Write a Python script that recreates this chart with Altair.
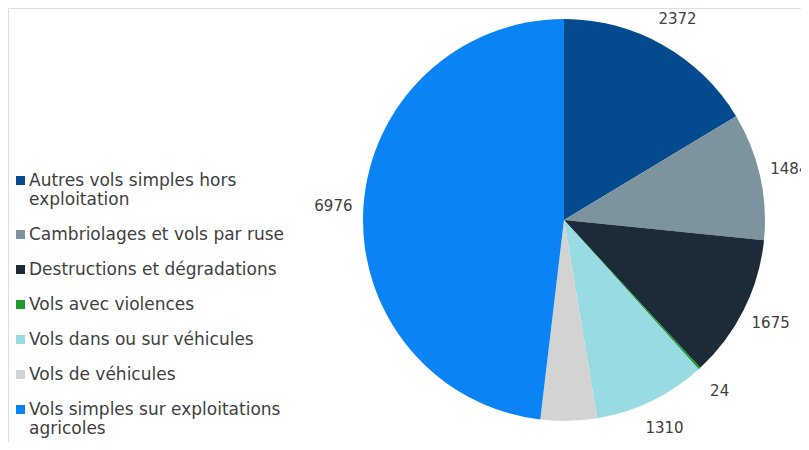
import altair as alt
import pandas as pd

categories = [
    "Autres vols simples hors exploitation",
    "Cambriolages et vols par ruse",
    "Destructions et dégradations",
    "Vols avec violences",
    "Vols dans ou sur véhicules",
    "Vols de véhicules",
    "Vols simples sur exploitations agricoles",
]
values = [2372, 1484, 1675, 24, 1310, 657, 6976]
colors = ["#034a8e", "#7d939e", "#1b2b38", "#1f9a2e", "#98dbe2", "#d3d3d3", "#0a84f4"]

df = pd.DataFrame({"cat": categories, "value": values, "idx": list(range(len(values)))})

CX, CY = 556, 212

label_expr = (
    "datum.label == 'Autres vols simples hors exploitation' ? ['Autres vols simples hors', 'exploitation'] : "
    "datum.label == 'Vols simples sur exploitations agricoles' ? ['Vols simples sur exploitations', 'agricoles'] : "
    "datum.label"
)

base = alt.Chart(df).encode(
    theta=alt.Theta("value:Q", stack=True),
    order=alt.Order("idx:Q"),
    x=alt.value(CX),
    y=alt.value(CY),
)

pie = base.mark_arc(outerRadius=201).encode(
    color=alt.Color(
        "cat:N",
        scale=alt.Scale(domain=categories, range=colors),
        sort=categories,
        legend=alt.Legend(
            title=None,
            orient="none",
            legendX=4,
            legendY=164,
            symbolType="square",
            symbolSize=81,
            symbolStrokeWidth=0,
            labelFont="DejaVu Sans",
            labelFontSize=17,
            labelColor="#404040",
            labelLimit=400,
            labelExpr=label_expr,
            rowPadding=17,
            symbolOffset=0,
            labelOffset=0,
        ),
    )
)

labels = base.mark_text(radius=231, font="DejaVu Sans", fontSize=15, color="#404040").encode(
    text=alt.Text("value:Q", format="d")
)

chart = (
    alt.layer(pie, labels)
    .properties(width=793, height=434, padding=0, autosize=alt.AutoSizeParams(type="none"))
    .configure_view(strokeWidth=0, stroke="transparent")
    .configure(background="white")
)

chart.save("out.html", embed_options={"renderer": "svg", "actions": False})
